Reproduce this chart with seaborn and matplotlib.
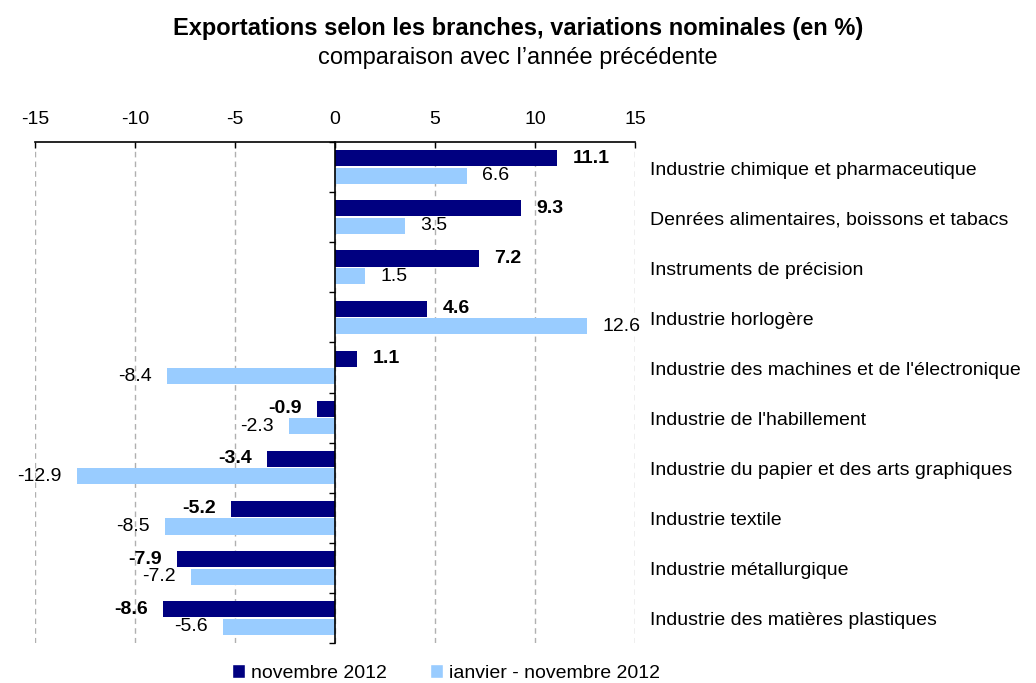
import numpy as np
import pandas as pd
import matplotlib
matplotlib.use("Agg")
import matplotlib.pyplot as plt
from matplotlib.patches import Patch
import seaborn as sns

categories = [
    "Industrie chimique et pharmaceutique",
    "Denrées alimentaires, boissons et tabacs",
    "Instruments de précision",
    "Industrie horlogère",
    "Industrie des machines et de l'électronique",
    "Industrie de l'habillement",
    "Industrie du papier et des arts graphiques",
    "Industrie textile",
    "Industrie métallurgique",
    "Industrie des matières plastiques",
]
nov_2012 = [11.1, 9.3, 7.2, 4.6, 1.1, -0.9, -3.4, -5.2, -7.9, -8.6]
jan_nov_2012 = [6.6, 3.5, 1.5, 12.6, -8.4, -2.3, -12.9, -8.5, -7.2, -5.6]
series_names = ["novembre 2012", "ianvier - novembre 2012"]
x_ticks = [-15, -10, -5, 0, 5, 10, 15]

dark = "#000080"
light = "#99CCFF"

sns.set_style("white")
plt.rcParams["font.family"] = ["Liberation Sans", "DejaVu Sans"]
plt.rcParams["text.color"] = "black"
plt.rcParams["xtick.color"] = "black"
plt.rcParams["ytick.color"] = "black"
plt.rcParams["axes.edgecolor"] = "black"

df = pd.DataFrame({
    "branche": categories * 2,
    "valeur": nov_2012 + jan_nov_2012,
    "periode": [series_names[0]] * len(categories) + [series_names[1]] * len(categories),
})

fig = plt.figure(figsize=(10.36, 6.83), dpi=100)
ax = fig.add_axes([35 / 1036, 1 - 643 / 683, 600 / 1036, 501 / 683])

sns.barplot(data=df, x="valeur", y="branche", hue="periode", orient="h",
            palette=[dark, light], saturation=1, width=0.7, gap=0.08,
            errorbar=None, legend=False, linewidth=0, ax=ax)

# value labels
ax.bar_label(ax.containers[0], fmt="%.1f", padding=11, fontsize=14,
             fontweight="bold", color="black")
ax.bar_label(ax.containers[1], fmt="%.1f", padding=11, fontsize=14, color="black")

ax.set_xlim(-15, 15)
ax.set_ylim(9.5, -0.5)
ax.set_xticks(x_ticks)
ax.set_xticklabels([str(t) for t in x_ticks], fontsize=14)
ax.xaxis.tick_top()
ax.tick_params(axis="x", direction="in", length=4, width=1, pad=10)
ax.set_xlabel("")
ax.set_ylabel("")

# category axis sits at zero
ax.spines["left"].set_position(("data", 0))
ax.spines["left"].set_linewidth(1.2)
ax.spines["top"].set_linewidth(1.2)
ax.spines["right"].set_visible(False)
ax.spines["bottom"].set_visible(False)
ax.set_yticks(np.arange(-0.5, len(categories), 1))
ax.set_yticklabels([])
ax.tick_params(axis="y", direction="out", length=4, width=1, left=True)

ax.grid(axis="x", color="#b0b0b0", linestyle=(0, (4, 3)), linewidth=1)
ax.grid(axis="y", visible=False)
ax.set_axisbelow(True)

for i, name in enumerate(categories):
    ax.text(1.025, i + 0.06, name, transform=ax.get_yaxis_transform(), fontsize=14,
            va="center", ha="left", color="black")

fig.text(0.5, 1 - 28 / 683, "Exportations selon les branches, variations nominales (en %)",
         ha="center", va="center", fontsize=17, fontweight="bold")
fig.text(0.5, 1 - 58 / 683, "comparaison avec l\u2019année précédente",
         ha="center", va="center", fontsize=17)

handles = [Patch(facecolor=dark), Patch(facecolor=light)]
fig.legend(handles, series_names, loc="center", bbox_to_anchor=(446 / 1036, 1 - 673 / 683),
           ncol=2, frameon=False, fontsize=14, handlelength=0.7, handleheight=0.7,
           handletextpad=0.3, columnspacing=2.2, borderaxespad=0)

fig.savefig("out.png", dpi=100)
